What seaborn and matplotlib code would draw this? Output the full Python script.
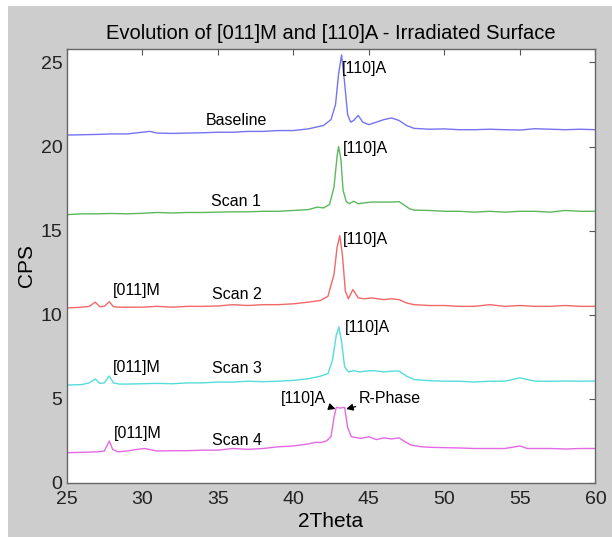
import matplotlib
matplotlib.use("Agg")
import numpy as np
import pandas as pd
import matplotlib.pyplot as plt
import seaborn as sns
from matplotlib.patches import Rectangle

# Baseline (blue)
base_x = [25, 26, 27, 28, 29, 30, 30.5, 31, 32, 33, 34, 35, 36, 37, 38, 39, 40, 41,
          41.5, 42, 42.5, 42.8, 43.0, 43.2, 43.4, 43.6, 43.8, 44.0, 44.3, 44.6, 45.0,
          45.5, 46.0, 46.5, 47.0, 47.5, 48, 49, 50, 51, 52, 53, 54, 55, 56, 57, 58, 59, 60]
base_y = [20.68, 20.7, 20.72, 20.75, 20.75, 20.85, 20.9, 20.8, 20.78, 20.8, 20.82, 20.85,
          20.85, 20.9, 20.9, 20.95, 20.95, 21.05, 21.15, 21.25, 21.6, 22.5, 24.3, 25.45,
          23.8, 21.9, 21.45, 21.55, 21.85, 21.45, 21.3, 21.45, 21.6, 21.7, 21.55, 21.25,
          21.08, 21.03, 21.05, 21.0, 21.0, 21.03, 21.0, 20.98, 21.06, 21.03, 21.0, 21.03, 21.0]

# Scan 1 (green)
scan1_x = [25, 26, 27, 28, 29, 30, 31, 32, 33, 34, 35, 36, 37, 38, 39, 40, 41,
           41.6, 42.0, 42.4, 42.7, 42.9, 43.0, 43.15, 43.3, 43.5, 43.7, 44.0, 44.3, 44.7,
           45.2, 46.0, 46.5, 47.0, 47.3, 47.7, 48, 49, 50, 51, 52, 53, 54, 55, 56, 57, 58, 59, 60]
scan1_y = [15.95, 16.0, 16.0, 16.02, 16.0, 16.03, 16.08, 16.05, 16.08, 16.08, 16.1, 16.12,
           16.12, 16.15, 16.15, 16.2, 16.25, 16.4, 16.35, 16.55, 17.6, 19.4, 20.0, 19.3,
           17.4, 16.75, 16.6, 16.75, 16.6, 16.65, 16.7, 16.7, 16.7, 16.72, 16.55, 16.3,
           16.22, 16.2, 16.15, 16.15, 16.1, 16.15, 16.1, 16.15, 16.15, 16.1, 16.2, 16.15, 16.15]

# Scan 2 (red)
scan2_x = [25, 26, 26.5, 26.9, 27.2, 27.5, 27.83, 28.1, 28.5, 29, 30, 31, 32, 33, 34, 35,
           36, 37, 38, 39, 40, 41, 41.8, 42.3, 42.7, 42.9, 43.08, 43.25, 43.45, 43.65, 43.95,
           44.3, 44.7, 45.2, 46, 46.5, 47.0, 47.5, 48, 49, 50, 51, 52, 53, 54, 55, 56, 57, 58, 59, 60]
scan2_y = [10.4, 10.45, 10.5, 10.75, 10.48, 10.5, 10.78, 10.48, 10.45, 10.45, 10.45, 10.5,
           10.45, 10.5, 10.5, 10.52, 10.6, 10.55, 10.6, 10.6, 10.65, 10.75, 10.85, 11.1,
           12.4, 14.0, 14.7, 13.6, 11.4, 10.95, 11.5, 11.0, 10.95, 11.0, 10.9, 10.95, 10.9,
           10.7, 10.6, 10.55, 10.55, 10.5, 10.5, 10.6, 10.5, 10.55, 10.5, 10.5, 10.55, 10.5, 10.5]

# Scan 3 (cyan)
scan3_x = [25, 26, 26.5, 26.9, 27.2, 27.5, 27.83, 28.1, 28.5, 29, 30, 31, 32, 33, 34, 35,
           36, 37, 38, 39, 40, 41, 41.8, 42.3, 42.6, 42.85, 43.02, 43.2, 43.4, 43.65, 44.0,
           44.4, 44.8, 45.3, 46, 46.5, 47.0, 47.5, 48, 49, 50, 51, 52, 53, 54, 55, 56, 57, 58, 59, 60]
scan3_y = [5.82, 5.85, 5.95, 6.18, 5.92, 5.95, 6.36, 5.95, 5.88, 5.88, 5.9, 5.92, 5.9, 5.95,
           5.95, 6.0, 6.0, 6.05, 6.02, 6.05, 6.1, 6.2, 6.35, 6.5, 7.3, 8.8, 9.27, 8.4, 6.9,
           6.6, 6.68, 6.6, 6.65, 6.68, 6.6, 6.65, 6.65, 6.35, 6.15, 6.08, 6.05, 6.05, 6.0,
           6.05, 6.05, 6.25, 6.05, 6.05, 6.06, 6.05, 6.06]

# Scan 4 (magenta)
scan4_x = [25, 26, 27, 27.5, 27.83, 28.05, 28.4, 29, 29.7, 30.2, 30.7, 31, 32, 33, 34, 35,
           36, 37, 38, 39, 40, 41, 41.5, 41.8, 42.2, 42.5, 42.7, 42.85, 43.1, 43.4, 43.6,
           43.85, 44.5, 45, 45.5, 46, 46.5, 47, 47.4, 47.8, 48.5, 49, 50, 51, 52, 53, 54, 55,
           55.5, 56, 57, 58, 59, 60]
scan4_y = [1.8, 1.82, 1.85, 1.9, 2.5, 2.0, 1.85, 1.9, 2.0, 2.05, 1.95, 1.9, 1.92, 1.92, 1.95,
           1.95, 2.05, 2.0, 2.05, 2.15, 2.2, 2.32, 2.42, 2.4, 2.5, 2.75, 3.9, 4.5, 4.45, 4.5,
           3.3, 2.75, 2.65, 2.75, 2.58, 2.68, 2.62, 2.68, 2.45, 2.25, 2.15, 2.12, 2.1, 2.08,
           2.05, 2.05, 2.05, 2.2, 2.05, 2.05, 2.05, 2.02, 2.05, 2.05]

series = [(base_x, base_y, "#7474f2"),
          (scan1_x, scan1_y, "#5cb85c"),
          (scan2_x, scan2_y, "#f06868"),
          (scan3_x, scan3_y, "#55dcdc"),
          (scan4_x, scan4_y, "#e46ae4")]

# labels on the curves
scan_names = ["Baseline", "Scan 1", "Scan 2", "Scan 3", "Scan 4"]
scan_name_x = [36.25, 36.2, 36.3, 36.25, 36.3]
scan_name_y = [21.55, 16.75, 11.2, 6.8, 2.55]
peak_a_x = [43.25, 43.3, 43.3, 43.4]
peak_a_y = [24.65, 19.9, 14.5, 9.25]
peak_m_x = [28.1, 28.05, 28.15]
peak_m_y = [11.45, 6.85, 2.92]

sns.set_theme(style="white")
plt.rcParams['font.family'] = ['Liberation Sans', 'DejaVu Sans']

fig = plt.figure(figsize=(6.12, 5.37), dpi=100, facecolor="white")
fig.patches.append(Rectangle((8 / 612, 0), 1, 1 - 6 / 537, transform=fig.transFigure,
                             facecolor="#cdcdcd", edgecolor="none", zorder=-1))
ax = fig.add_axes([0.1087, 0.1006, 0.8643, 0.8082])
ax.set_facecolor("white")

for x, y, c in series:
    df = pd.DataFrame({"2Theta": x, "CPS": y})
    sns.lineplot(data=df, x="2Theta", y="CPS", color=c, linewidth=1.0,
                 estimator=None, sort=False, ax=ax)

for name, x, y in zip(scan_names, scan_name_x, scan_name_y):
    ax.text(x, y, name, fontsize=11.5, ha="center", va="center", color="black")
for x, y in zip(peak_a_x, peak_a_y):
    ax.text(x, y, "[110]A", fontsize=11.5, ha="left", va="center", color="black")
for x, y in zip(peak_m_x, peak_m_y):
    ax.text(x, y, "[011]M", fontsize=11.5, ha="left", va="center", color="black")

arrow = dict(arrowstyle="-|>", color="black", lw=0.9, mutation_scale=10,
             shrinkA=0, shrinkB=0)
ax.annotate("[110]A", xy=(42.8, 4.4), xytext=(42.2, 5.05), fontsize=11.5,
            ha="right", va="center", color="black", arrowprops=arrow)
ax.annotate("R-Phase", xy=(43.5, 4.4), xytext=(44.35, 5.05), fontsize=11.5,
            ha="left", va="center", color="black", arrowprops=arrow)

ax.set_xlim(25, 60)
ax.set_ylim(0, 25.8)
ax.set_xticks(np.arange(25, 61, 5))
ax.set_yticks(np.arange(0, 26, 5))
ax.tick_params(direction="in", top=True, right=True, length=4, width=0.8,
               color="#555555", labelcolor="#222222", labelsize=14)
ax.tick_params(axis="x", pad=6)
ax.tick_params(axis="y", pad=3)
for s in ax.spines.values():
    s.set_color("#666666")
    s.set_linewidth(1.0)

ax.set_xlabel("2Theta", fontsize=15, color="black", labelpad=3)
ax.set_ylabel("CPS", fontsize=15, color="black", labelpad=3)
ax.set_title("Evolution of [011]M and [110]A - Irradiated Surface", fontsize=14.5,
             color="black", pad=7)

fig.savefig("out.png", dpi=100, facecolor=fig.get_facecolor())
